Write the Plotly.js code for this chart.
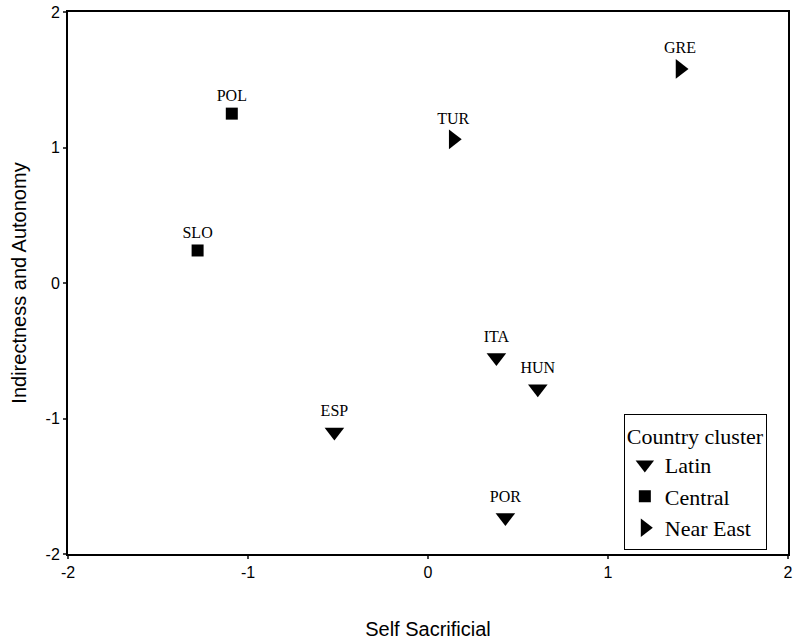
<!DOCTYPE html>
<html><head><meta charset="utf-8">
<script src="https://cdn.plot.ly/plotly-3.0.1.min.js"></script>
<style>html,body{margin:0;padding:0;background:#fff}#c{width:794px;height:643px}</style>
</head><body><div id="c"></div>
<script>
const latinNames = ["ITA", "HUN", "ESP", "POR"];
const latinX = [0.38, 0.61, -0.52, 0.43];
const latinY = [-0.55, -0.78, -1.10, -1.73];
const centralNames = ["POL", "SLO"];
const centralX = [-1.09, -1.28];
const centralY = [1.25, 0.24];
const nearEastNames = ["GRE", "TUR"];
const nearEastX = [1.40, 0.14];
const nearEastY = [1.58, 1.06];
const clusterNames = ["Latin", "Central", "Near East"];
const tickVals = [-2, -1, 0, 1, 2];
const tickText = ["-2", "-1", "0", "1", "2"];

const serif = "Liberation Serif, Times New Roman, serif";
const sans = "Liberation Sans, Arial, sans-serif";
function tr(name, xs, ys, labels, symbol, size) {
  return {type: "scatter", mode: "markers+text", name: name,
    x: xs, y: ys, text: labels,
    textposition: "top center", textfont: {family: serif, size: 16, color: "#000"},
    marker: {symbol: symbol, size: size, color: "#000"}, cliponaxis: false};
}
const data = [
  tr(clusterNames[0], latinX, latinY, latinNames, "triangle-down", 17),
  tr(clusterNames[1], centralX, centralY, centralNames, "square", 12),
  tr(clusterNames[2], nearEastX, nearEastY, nearEastNames, "triangle-right", 17)
];
const axisBase = {range: [-2, 2], tickvals: tickVals, ticktext: tickText, ticks: "outside", ticklen: 3, tickwidth: 2,
  showline: true, linewidth: 2, linecolor: "#000", mirror: true, showgrid: false, zeroline: false,
  tickfont: {family: sans, size: 16, color: "#000"}, automargin: false, ticklabeloverflow: "allow"};
const layout = {
  width: 794, height: 643, margin: {l: 68, r: 6, t: 12, b: 89},
  font: {family: serif, size: 18, color: "#000"},
  paper_bgcolor: "#fff", plot_bgcolor: "#fff", showlegend: true,
  xaxis: Object.assign({}, axisBase, {title: {text: "Self Sacrificial", font: {family: sans, size: 20, color: "#000"}, standoff: 42}}),
  yaxis: Object.assign({}, axisBase, {title: {text: "Indirectness and Autonomy", font: {family: sans, size: 20, color: "#000"}, standoff: 14}}),
  legend: {x: 0.772, y: 0.258, xanchor: "left", yanchor: "top", bgcolor: "#fff", bordercolor: "#000", borderwidth: 1,
    font: {family: serif, size: 22, color: "#000"}, title: {text: "Country cluster", font: {family: serif, size: 22, color: "#000"}},
    tracegroupgap: 0, itemwidth: 30}
};
Plotly.newPlot("c", data, layout, {displayModeBar: false, staticPlot: true});
</script></body></html>
